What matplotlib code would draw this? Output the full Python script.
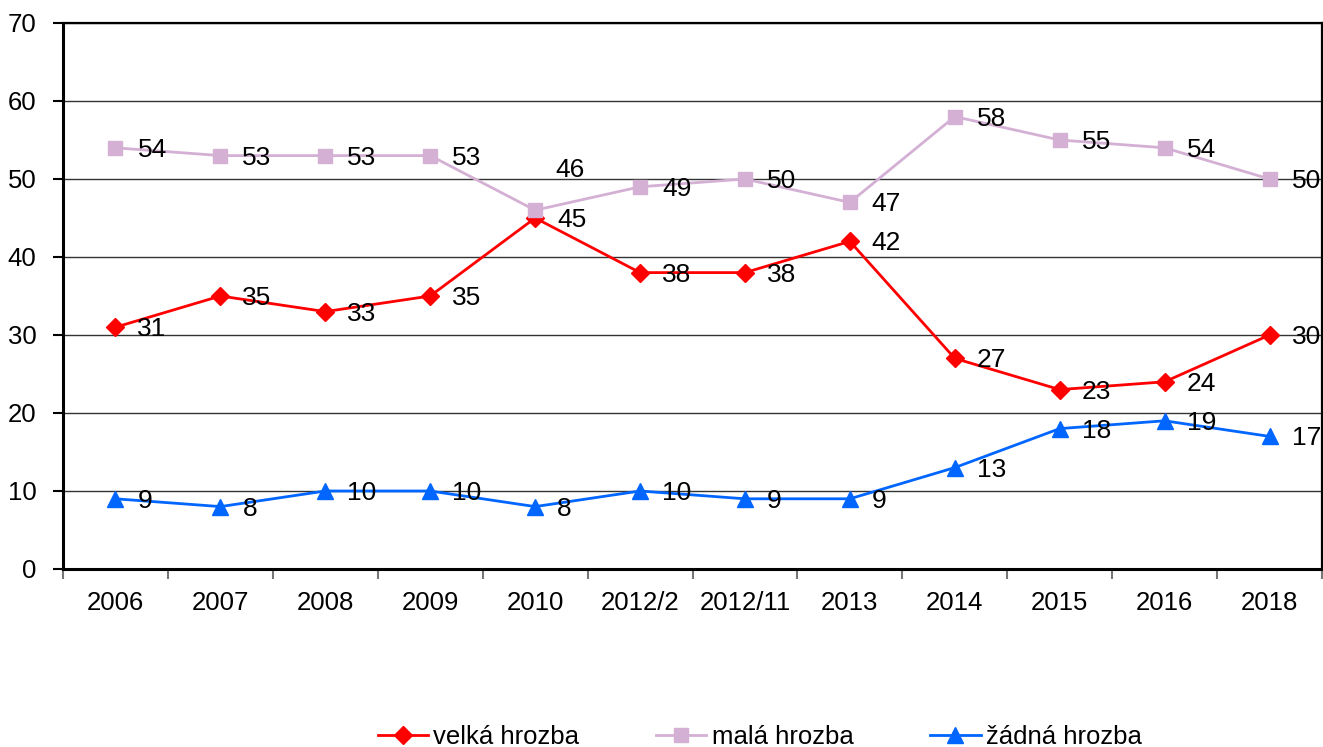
import matplotlib
matplotlib.use("Agg")
import matplotlib.pyplot as plt

plt.rcParams['font.family'] = ['Liberation Sans', 'DejaVu Sans']

categories = ["2006", "2007", "2008", "2009", "2010", "2012/2", "2012/11",
              "2013", "2014", "2015", "2016", "2018"]
velka = [31, 35, 33, 35, 45, 38, 38, 42, 27, 23, 24, 30]
mala = [54, 53, 53, 53, 46, 49, 50, 47, 58, 55, 54, 50]
zadna = [9, 8, 10, 10, 8, 10, 9, 9, 13, 18, 19, 17]

series = [
    ("velká hrozba", velka, "#FF0000", "D", 9),
    ("malá hrozba", mala, "#D4B0D4", "s", 10),
    ("žádná hrozba", zadna, "#0066FF", "^", 11),
]

fig = plt.figure(figsize=(13.23, 7.47), dpi=100)
ax = fig.add_axes([63 / 1323, 178 / 747, 1259 / 1323, 546 / 747])

x = list(range(len(categories)))
for name, vals, color, marker, ms in series:
    ax.plot(x, vals, color=color, marker=marker, markersize=ms, lw=2,
            label=name, zorder=3, clip_on=False)
    for i, v in enumerate(vals):
        off = (22, -2)
        if name == "malá hrozba" and categories[i] == "2010":
            off = (20, 40)
        ax.annotate(str(v), (i, v), xytext=off, textcoords="offset pixels",
                    ha="left", va="center", fontsize=19, zorder=4,
                    annotation_clip=False)

ax.set_xlim(-0.5, len(categories) - 0.5)
ax.set_ylim(0, 70)
ax.set_yticks(range(0, 71, 10))
ax.yaxis.grid(True, color="#333333", lw=1)
ax.set_axisbelow(True)

ax.set_xticks(x)
ax.set_xticklabels(categories)
ax.set_xticks([i - 0.5 for i in range(len(categories) + 1)], minor=True)
ax.tick_params(axis="x", which="major", length=0, pad=16, labelsize=18.5)
ax.tick_params(axis="x", which="minor", length=7, width=1.5, color="#777777")
ax.tick_params(axis="y", length=7, width=1.5, labelsize=18.5, pad=12)

for side in ["left", "bottom"]:
    ax.spines[side].set_linewidth(2.2)
for side in ["top", "right"]:
    ax.spines[side].set_linewidth(1.6)

fig.legend(loc="center left", bbox_to_anchor=(378 / 1323, 10 / 747), ncol=3,
           frameon=False, fontsize=18.5, handlelength=1.95, handletextpad=0.2,
           columnspacing=3.0, borderpad=0, borderaxespad=0)

fig.savefig("out.png", dpi=100)
